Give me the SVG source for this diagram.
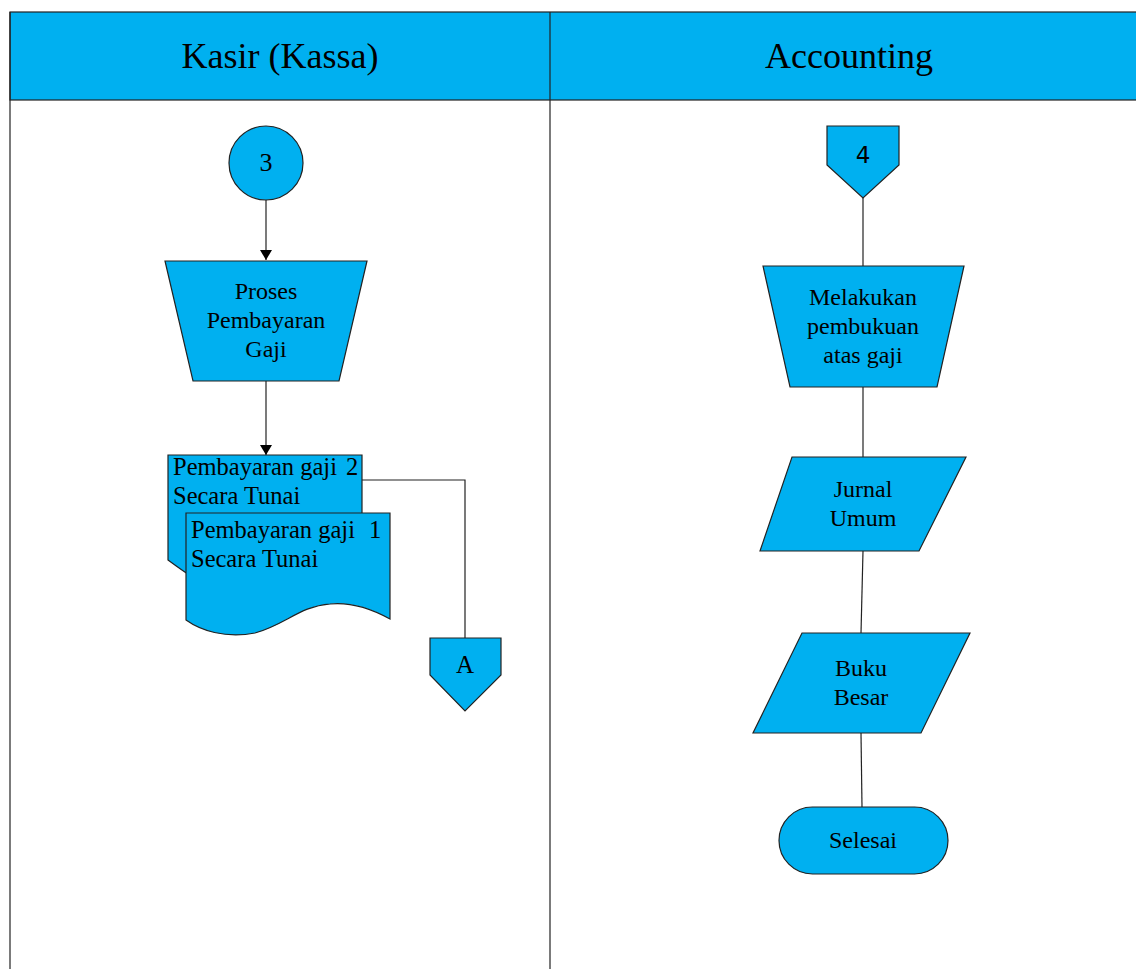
<svg xmlns="http://www.w3.org/2000/svg" width="1136" height="969" viewBox="0 0 1136 969">
  <defs>
    <style>
      .shape { fill: #00B0F0; stroke: #222; stroke-width: 1.2; }
      .lane { fill: none; stroke: #222; stroke-width: 1.2; }
      .head { fill: #00B0F0; stroke: #222; stroke-width: 1.2; }
      .title { font-family: "Liberation Serif", "Times New Roman", serif; font-size: 36px; fill: #000; text-anchor: middle; }
      .lbl { font-family: "Liberation Serif", "Times New Roman", serif; font-size: 24px; fill: #000; text-anchor: middle; }
      .lbl-l { font-family: "Liberation Serif", "Times New Roman", serif; font-size: 24.5px; fill: #000; }
      .conn { fill: none; stroke: #222; stroke-width: 1.2; }
    </style>
    <marker id="arrow" viewBox="0 0 10 12" refX="10" refY="6" markerWidth="10" markerHeight="12" markerUnits="userSpaceOnUse" orient="auto">
      <path d="M0,0 L10,6 L0,12 Z" fill="#000"/>
    </marker>
  </defs>

  <rect width="1136" height="969" fill="#fff"/>

  <!-- swimlanes -->
  <g id="lanes">
    <rect class="head" x="10" y="12" width="1130" height="88"/>
    <line class="lane" x1="10" y1="12" x2="10" y2="969"/>
    <line class="lane" x1="550" y1="12" x2="550" y2="969"/>
    <text class="title" x="280" y="68">Kasir (Kassa)</text>
    <text class="title" x="849" y="68">Accounting</text>
  </g>

  <!-- connectors -->
  <g id="connectors">
    <line class="conn" x1="266" y1="200" x2="266" y2="260" marker-end="url(#arrow)"/>
    <line class="conn" x1="266" y1="381" x2="266" y2="455" marker-end="url(#arrow)"/>
    <polyline class="conn" points="362,480 465,480 465,638"/>
    <line class="conn" x1="863" y1="198" x2="863" y2="266"/>
    <line class="conn" x1="863" y1="387" x2="863" y2="457"/>
    <line class="conn" x1="863" y1="551" x2="861" y2="633"/>
    <line class="conn" x1="861" y1="733" x2="862" y2="807"/>
  </g>

  <g id="start-3">
    <circle class="shape" cx="266" cy="163" r="37"/>
    <text class="lbl" x="266" y="171" style="font-size: 26px;">3</text>
  </g>

  <g id="proses-pembayaran">
    <polygon class="shape" points="165,261 367,261 339,381 193,381"/>
    <text class="lbl" x="266" y="299">Proses</text>
    <text class="lbl" x="266" y="328">Pembayaran</text>
    <text class="lbl" x="266" y="357">Gaji</text>
  </g>

  <g id="dokumen-2">
    <path class="shape" d="M168,455 L362,455 L362,590 C330,575 295,590 265,600 C230,605 195,580 168,560 Z"/>
    <text class="lbl-l" x="173" y="475">Pembayaran gaji<tspan x="346">2</tspan></text>
    <text class="lbl-l" x="173" y="504">Secara Tunai</text>
  </g>

  <g id="dokumen-1">
    <path class="shape" d="M186,513 L390,513 L390,619 C370,608 350,602 330,604 C300,606 285,625 255,633 C225,639 200,630 186,620 Z"/>
    <text class="lbl-l" x="191" y="538">Pembayaran gaji<tspan x="369">1</tspan></text>
    <text class="lbl-l" x="191" y="567">Secara Tunai</text>
  </g>

  <g id="offpage-a">
    <polygon class="shape" points="430,638 501,638 501,675 465,711 430,675"/>
    <text class="lbl" x="465" y="673" style="font-size: 25px;">A</text>
  </g>

  <g id="offpage-4">
    <polygon class="shape" points="827,126 899,126 899,165 863,198 827,165"/>
    <text class="lbl" x="863" y="163" style="font-family: 'DejaVu Sans', sans-serif; font-size: 23px;">4</text>
  </g>

  <g id="pembukuan">
    <polygon class="shape" points="763,266 964,266 937,387 790,387"/>
    <text class="lbl" x="863" y="305">Melakukan</text>
    <text class="lbl" x="863" y="334">pembukuan</text>
    <text class="lbl" x="863" y="363">atas gaji</text>
  </g>

  <g id="jurnal-umum">
    <polygon class="shape" points="792,457 966,457 919,551 760,551"/>
    <text class="lbl" x="863" y="497">Jurnal</text>
    <text class="lbl" x="863" y="526">Umum</text>
  </g>

  <g id="buku-besar">
    <polygon class="shape" points="802,633 970,633 921,733 753,733"/>
    <text class="lbl" x="861" y="676">Buku</text>
    <text class="lbl" x="861" y="705">Besar</text>
  </g>

  <g id="selesai">
    <rect class="shape" x="779" y="807" width="169" height="67" rx="33.5" ry="33.5"/>
    <text class="lbl" x="863" y="848">Selesai</text>
  </g>
</svg>
